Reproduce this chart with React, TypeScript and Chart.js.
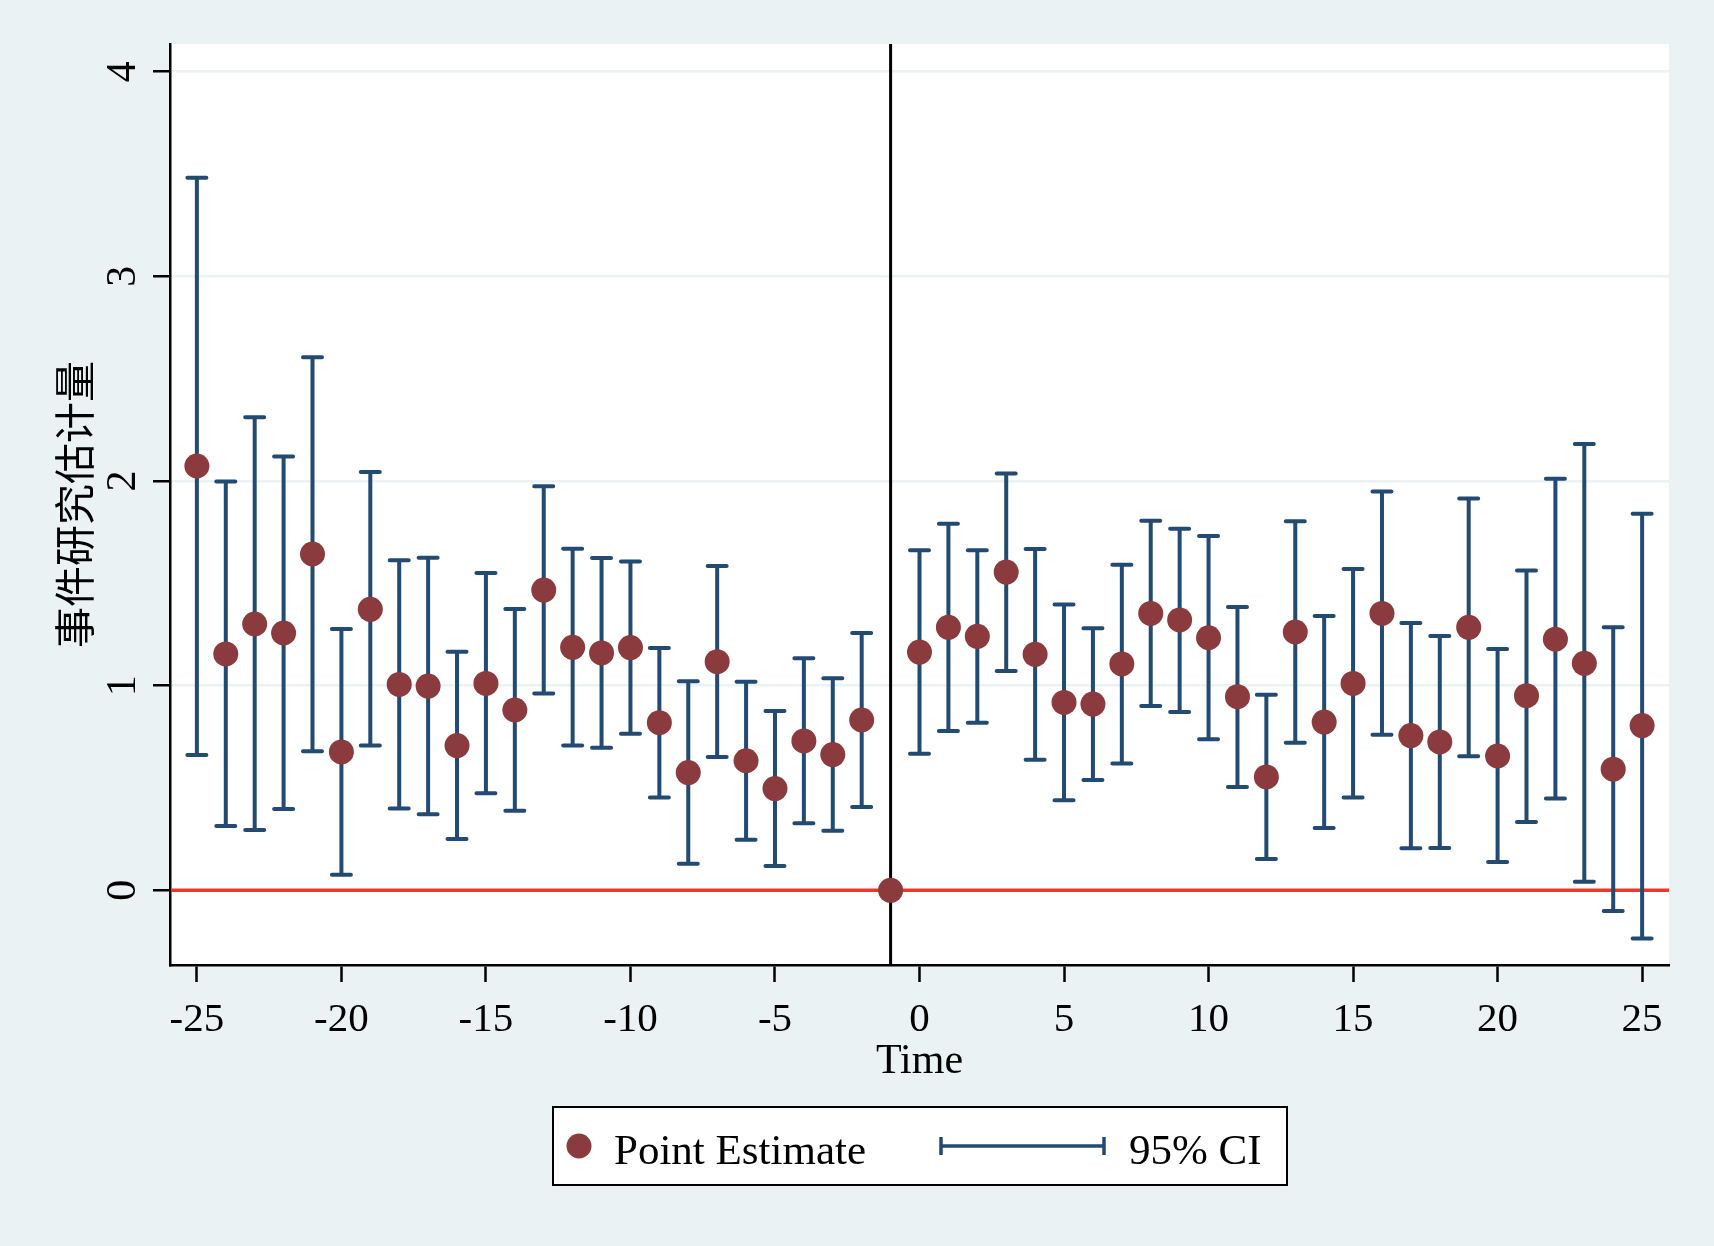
import React, { useEffect, useRef } from "react";
import { Chart, registerables } from "chart.js";

Chart.register(...registerables);

// ---------- data ----------
const PERIODS = [
  -25, -24, -23, -22, -21, -20, -19, -18, -17, -16, -15, -14, -13, -12, -11, -10, -9, -8, -7, -6, -5, -4, -3, -2, -1,
  0, 1, 2, 3, 4, 5, 6, 7, 8, 9, 10, 11, 12, 13, 14, 15, 16, 17, 18, 19, 20, 21, 22, 23, 24, 25,
];
const ESTIMATES = [
  2.073, 1.155, 1.301, 1.257, 1.643, 0.676, 1.373, 1.006, 0.998, 0.707, 1.011, 0.881, 1.467, 1.187, 1.16, 1.186,
  0.819, 0.575, 1.117, 0.633, 0.497, 0.73, 0.663, 0.832, 0,
  1.164, 1.285, 1.241, 1.555, 1.153, 0.918, 0.91, 1.106, 1.353, 1.321, 1.234, 0.946, 0.554, 1.262, 0.822, 1.011,
  1.353, 0.756, 0.725, 1.285, 0.656, 0.951, 1.227, 1.109, 0.592, 0.805,
];
const CI_UPPER: (number | null)[] = [
  3.482, 1.997, 2.311, 2.119, 2.604, 1.277, 2.044, 1.612, 1.625, 1.166, 1.55, 1.375, 1.974, 1.669, 1.624, 1.606,
  1.184, 1.021, 1.585, 1.019, 0.876, 1.134, 1.036, 1.257, null,
  1.662, 1.791, 1.661, 2.037, 1.668, 1.396, 1.28, 1.591, 1.806, 1.767, 1.731, 1.384, 0.956, 1.803, 1.34, 1.57,
  1.948, 1.306, 1.243, 1.914, 1.179, 1.563, 2.011, 2.181, 1.285, 1.84,
];
const CI_LOWER: (number | null)[] = [
  0.661, 0.314, 0.295, 0.397, 0.679, 0.076, 0.707, 0.4, 0.371, 0.251, 0.474, 0.389, 0.962, 0.707, 0.697, 0.765,
  0.453, 0.13, 0.651, 0.247, 0.119, 0.327, 0.291, 0.407, null,
  0.667, 0.778, 0.819, 1.071, 0.638, 0.44, 0.539, 0.619, 0.901, 0.871, 0.738, 0.505, 0.153, 0.721, 0.304, 0.453,
  0.76, 0.205, 0.207, 0.655, 0.138, 0.334, 0.448, 0.042, -0.101, -0.235,
];
const X_TICKS = [-25, -20, -15, -10, -5, 0, 5, 10, 15, 20, 25];
const Y_TICKS = [0, 1, 2, 3, 4];
const EVENT_PERIOD = -1;
const REFERENCE_VALUE = 0;
const X_TITLE = "Time";
const Y_TITLE = "事件研究估计量";
const LEGEND_POINT = "Point Estimate";
const LEGEND_CI = "95% CI";

// ---------- styles ----------
const W = 1714;
const H = 1246;
const BG = "#eaf2f3";
const NAVY = "#234a72";
const MAROON = "#8b3a3e";
const RED = "#e8392b";
const SERIF = '"Liberation Serif", "Times New Roman", serif';
const CJK = '"Noto Sans CJK SC", sans-serif';

export default function App() {
  const ref = useRef<HTMLCanvasElement | null>(null);

  useEffect(() => {
    if (!ref.current) return;

    const decor = {
      id: "stataDecor",
      beforeDraw(chart: any) {
        const { ctx, chartArea: a } = chart;
        ctx.save();
        ctx.fillStyle = BG;
        ctx.fillRect(0, 0, chart.width, chart.height);
        ctx.fillStyle = "#ffffff";
        ctx.fillRect(a.left, a.top, a.right - a.left, a.bottom - a.top);
        ctx.restore();
      },
      beforeDatasetsDraw(chart: any) {
        const { ctx, chartArea: a } = chart;
        const xs = chart.scales.x;
        const ys = chart.scales.y;
        ctx.save();
        // zero reference line
        const y0 = ys.getPixelForValue(REFERENCE_VALUE);
        ctx.strokeStyle = RED;
        ctx.lineWidth = 3.5;
        ctx.beginPath();
        ctx.moveTo(a.left + 1, y0);
        ctx.lineTo(a.right, y0);
        ctx.stroke();
        // event line
        const xe = xs.getPixelForValue(EVENT_PERIOD);
        ctx.strokeStyle = "#000";
        ctx.lineWidth = 3;
        ctx.beginPath();
        ctx.moveTo(xe, a.top);
        ctx.lineTo(xe, a.bottom);
        ctx.stroke();
        // confidence intervals
        ctx.strokeStyle = NAVY;
        ctx.lineWidth = 4;
        for (let i = 0; i < PERIODS.length; i++) {
          const up = CI_UPPER[i];
          const lo = CI_LOWER[i];
          if (up == null || lo == null) continue;
          const px = xs.getPixelForValue(PERIODS[i]);
          const pu = ys.getPixelForValue(up);
          const pl = ys.getPixelForValue(lo);
          ctx.lineCap = "butt";
          ctx.beginPath();
          ctx.moveTo(px, pu);
          ctx.lineTo(px, pl);
          ctx.stroke();
          ctx.lineCap = "round";
          ctx.beginPath();
          ctx.moveTo(px - 9.5, pu);
          ctx.lineTo(px + 9.5, pu);
          ctx.moveTo(px - 9.5, pl);
          ctx.lineTo(px + 9.5, pl);
          ctx.stroke();
        }
        ctx.restore();
      },
      afterDraw(chart: any) {
        const { ctx, chartArea: a } = chart;
        const xs = chart.scales.x;
        const ys = chart.scales.y;
        ctx.save();
        ctx.fillStyle = "#000";
        // x tick labels
        ctx.font = `41px ${SERIF}`;
        ctx.textAlign = "center";
        ctx.textBaseline = "alphabetic";
        X_TICKS.forEach((v) => {
          ctx.fillText(String(v), xs.getPixelForValue(v), 1031);
        });
        // x title
        ctx.font = `42px ${SERIF}`;
        ctx.fillText(X_TITLE, (a.left + a.right) / 2, 1073);
        // y tick labels (rotated)
        ctx.font = `42px ${SERIF}`;
        Y_TICKS.forEach((v) => {
          ctx.save();
          ctx.translate(135, ys.getPixelForValue(v));
          ctx.rotate(-Math.PI / 2);
          ctx.textAlign = "center";
          ctx.textBaseline = "alphabetic";
          ctx.fillText(String(v), 0, 0);
          ctx.restore();
        });
        // y title
        ctx.save();
        ctx.translate(74, (a.top + a.bottom) / 2);
        ctx.rotate(-Math.PI / 2);
        ctx.font = `41px ${CJK}`;
        ctx.textAlign = "center";
        ctx.textBaseline = "middle";
        ctx.fillText(Y_TITLE, 0, 0);
        ctx.restore();

        // legend
        ctx.fillStyle = "#ffffff";
        ctx.fillRect(553, 1107, 734, 78);
        ctx.strokeStyle = "#000";
        ctx.lineWidth = 2;
        ctx.strokeRect(553, 1107, 734, 78);
        ctx.fillStyle = MAROON;
        ctx.beginPath();
        ctx.arc(579, 1146, 12.5, 0, Math.PI * 2);
        ctx.fill();
        ctx.fillStyle = "#000";
        ctx.font = `43px ${SERIF}`;
        ctx.textAlign = "left";
        ctx.textBaseline = "alphabetic";
        ctx.fillText(LEGEND_POINT, 614, 1164);
        ctx.strokeStyle = NAVY;
        ctx.lineWidth = 3.5;
        ctx.beginPath();
        ctx.moveTo(941, 1146);
        ctx.lineTo(1104, 1146);
        ctx.moveTo(941, 1137);
        ctx.lineTo(941, 1155);
        ctx.moveTo(1104, 1137);
        ctx.lineTo(1104, 1155);
        ctx.stroke();
        ctx.fillText(LEGEND_CI, 1129, 1164);
        ctx.restore();
      },
    };

    const chart = new Chart(ref.current, {
      type: "scatter",
      data: {
        datasets: [
          {
            label: LEGEND_POINT,
            data: PERIODS.map((p, i) => ({ x: p, y: ESTIMATES[i] })),
            backgroundColor: MAROON,
            borderWidth: 0,
            pointRadius: 12.5,
            pointHoverRadius: 12.5,
          },
        ],
      },
      options: {
        responsive: false,
        animation: false,
        events: [],
        layout: { padding: { left: 0, top: 44, right: 45, bottom: 0 } },
        plugins: { legend: { display: false }, tooltip: { enabled: false } },
        scales: {
          x: {
            type: "linear",
            position: "bottom",
            min: -25.93,
            max: 25.93,
            afterBuildTicks: (s: any) => {
              s.ticks = X_TICKS.map((v) => ({ value: v }));
            },
            afterFit: (s: any) => {
              s.height = H - 965;
            },
            ticks: { display: false },
            grid: {
              drawOnChartArea: false,
              drawTicks: true,
              tickLength: 17,
              tickColor: "#000",
              tickWidth: 2.5,
            },
            border: { display: true, color: "#000", width: 2.5 },
          },
          y: {
            type: "linear",
            min: -0.365,
            max: 4.135,
            afterBuildTicks: (s: any) => {
              s.ticks = Y_TICKS.map((v) => ({ value: v }));
            },
            afterFit: (s: any) => {
              s.width = 170;
            },
            ticks: { display: false },
            grid: {
              color: BG,
              lineWidth: 2.5,
              drawOnChartArea: true,
              drawTicks: true,
              tickLength: 17,
              tickColor: "#000",
              tickWidth: 2.5,
            },
            border: { display: true, color: "#000", width: 2.5 },
          },
        },
      } as any,
      plugins: [decor],
    });

    return () => chart.destroy();
  }, []);

  return (
    <div style={{ position: "absolute", left: 0, top: 0, width: W, height: H, background: BG }}>
      <canvas ref={ref} width={W} height={H} style={{ display: "block", width: W, height: H }} />
    </div>
  );
}
